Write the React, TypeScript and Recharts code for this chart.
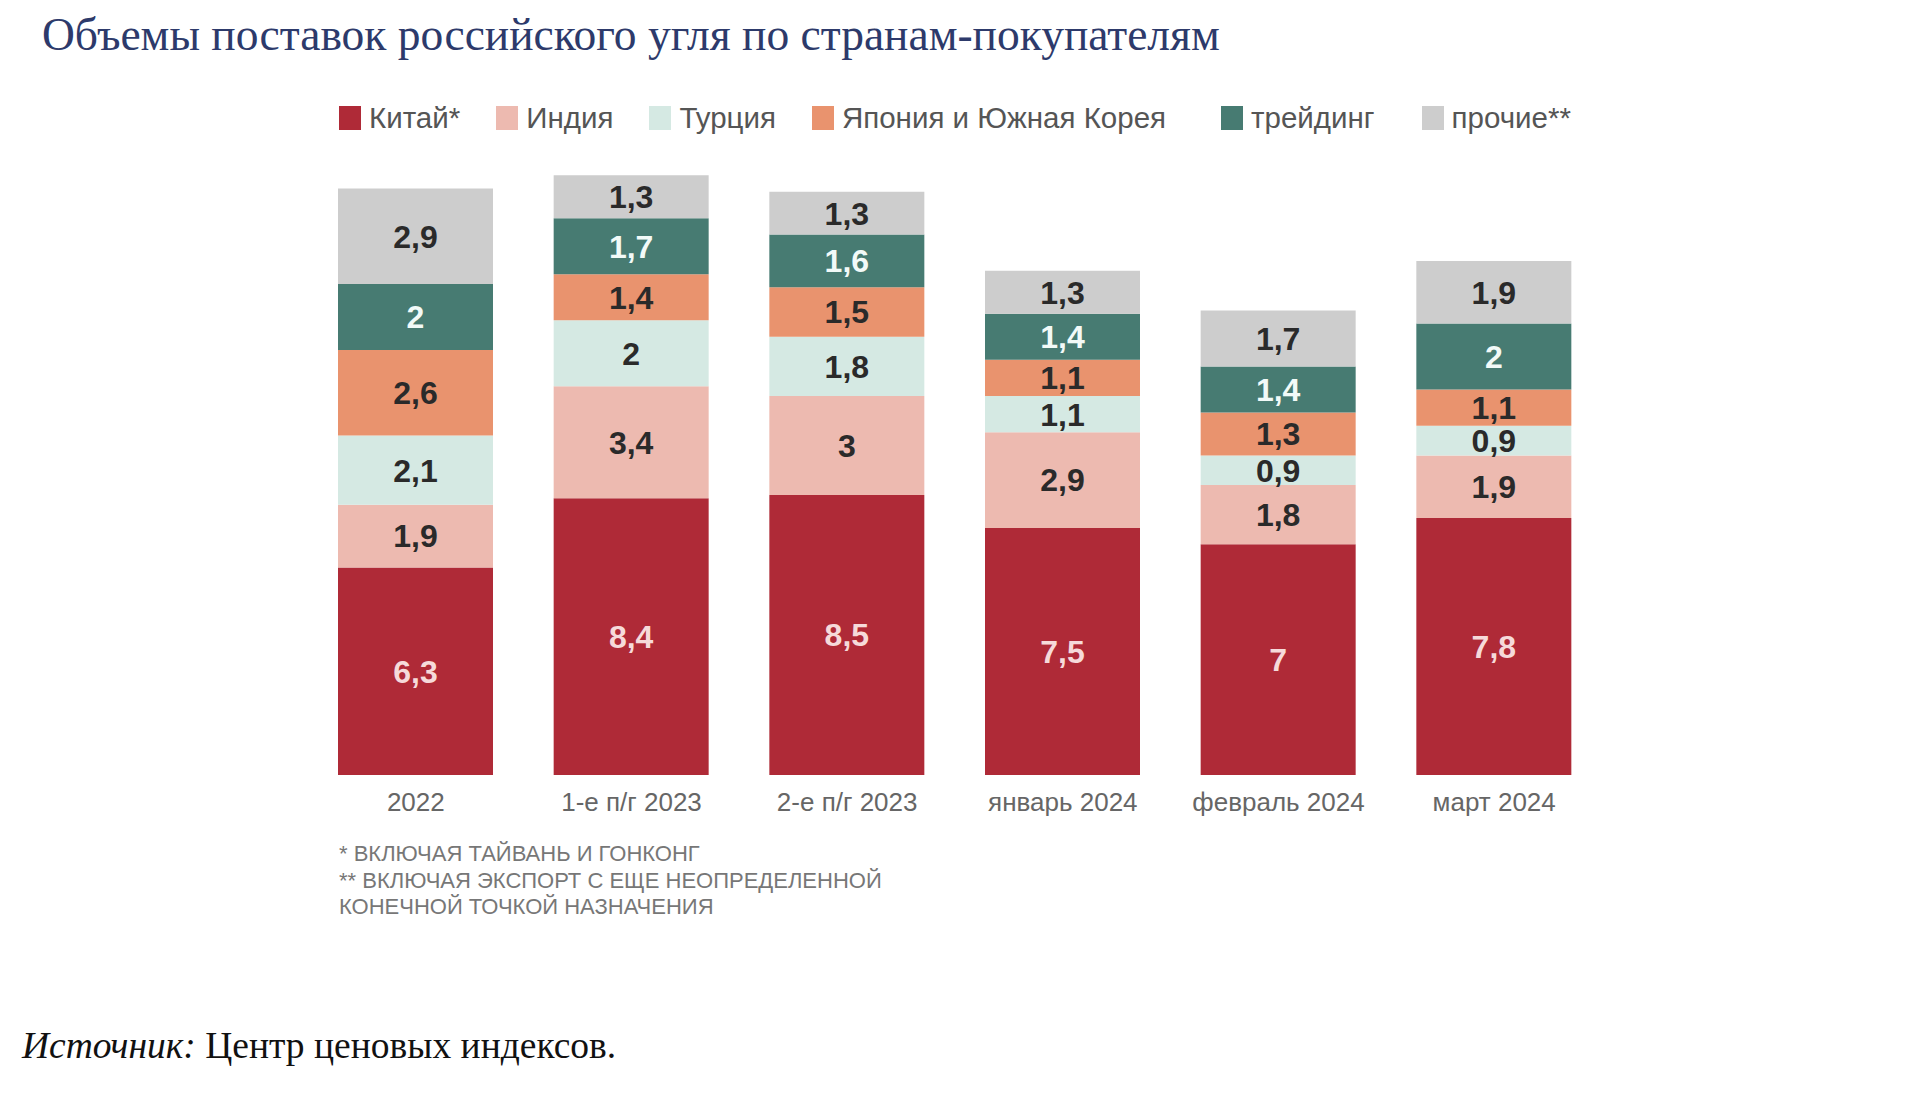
import { BarChart, Bar, XAxis, YAxis, LabelList } from 'recharts'

const categories = ['2022', '1-е п/г 2023', '2-е п/г 2023', 'январь 2024', 'февраль 2024', 'март 2024']
const china = [6.3, 8.4, 8.5, 7.5, 7, 7.8]
const india = [1.9, 3.4, 3, 2.9, 1.8, 1.9]
const turkey = [2.1, 2, 1.8, 1.1, 0.9, 0.9]
const japanKorea = [2.6, 1.4, 1.5, 1.1, 1.3, 1.1]
const trading = [2, 1.7, 1.6, 1.4, 1.4, 2]
const other = [2.9, 1.3, 1.3, 1.3, 1.7, 1.9]

const seriesNames = ['Китай*', 'Индия', 'Турция', 'Япония и Южная Корея', 'трейдинг', 'прочие**']
const footnotes = ['* ВКЛЮЧАЯ ТАЙВАНЬ И ГОНКОНГ', '** ВКЛЮЧАЯ ЭКСПОРТ С ЕЩЕ НЕОПРЕДЕЛЕННОЙ', 'КОНЕЧНОЙ ТОЧКОЙ НАЗНАЧЕНИЯ']

const series = [
  { key: 'china', values: china, color: '#af2a37', text: '#f6dada' },
  { key: 'india', values: india, color: '#edbab0', text: '#2a2a2a' },
  { key: 'turkey', values: turkey, color: '#d5e9e3', text: '#2a2a2a' },
  { key: 'japanKorea', values: japanKorea, color: '#e9936e', text: '#2a2a2a' },
  { key: 'trading', values: trading, color: '#477b72', text: '#f2faf8' },
  { key: 'other', values: other, color: '#cdcdcd', text: '#2a2a2a' },
]

const data = categories.map((name, i) => {
  const row: Record<string, string | number> = { name }
  series.forEach(s => { row[s.key] = s.values[i] })
  return row
})

const fmt = (v: any) => String(v).replace('.', ',')
const SANS = '"Liberation Sans", Arial, sans-serif'
// extra spacing in the legend row (the source has a wide gap before "трейдинг")
const legendGaps = [36, 36, 36, 55, 47, 0]

export default function App() {
  return (
    <div style={{ position: 'absolute', left: 0, top: 0, width: 1920, height: 1108, background: '#fff', overflow: 'hidden' }}>
      <div style={{ position: 'absolute', left: 42, top: 9, fontFamily: '"Liberation Serif", serif', fontSize: 45.5, lineHeight: '52px', color: '#2d3a6b', whiteSpace: 'nowrap' }}>
        Объемы поставок российского угля по странам-покупателям
      </div>

      {/* legend */}
      <div style={{ position: 'absolute', left: 339, top: 101, display: 'flex', alignItems: 'center', fontFamily: SANS, fontSize: 29.5, color: '#555', whiteSpace: 'nowrap' }}>
        {seriesNames.map((n, i) => (
          <div key={n} style={{ display: 'flex', alignItems: 'center', marginRight: legendGaps[i] }}>
            <span style={{ display: 'inline-block', width: 22, height: 24, background: series[i].color, marginRight: 8 }} />
            <span>{n}</span>
          </div>
        ))}
      </div>

      <div style={{ position: 'absolute', left: 0, top: 0 }}>
        <BarChart width={1920} height={1108} data={data} margin={{ top: 116, right: 318, bottom: 293, left: 308 }} barSize={155}>
          <XAxis dataKey="name" axisLine={false} tickLine={false} tickSize={0} tickMargin={18} height={40} interval={0}
            tick={{ fill: '#666', fontSize: 26, fontFamily: SANS }} />
          <YAxis hide domain={[0, 20]} />
          {series.map(s => (
            <Bar key={s.key} dataKey={s.key} stackId="a" fill={s.color} isAnimationActive={false}>
              <LabelList dataKey={s.key} position="center" formatter={fmt}
                style={{ fill: s.text, fontSize: 32, fontWeight: 700, fontFamily: SANS }} />
            </Bar>
          ))}
        </BarChart>
      </div>

      <div style={{ position: 'absolute', left: 339, top: 841, fontFamily: SANS, fontSize: 22, lineHeight: '26.5px', color: '#777', whiteSpace: 'nowrap' }}>
        {footnotes.map(f => <div key={f}>{f}</div>)}
      </div>

      <div style={{ position: 'absolute', left: 22, top: 1024, fontFamily: '"Liberation Serif", serif', fontSize: 37.5, lineHeight: '44px', color: '#111', whiteSpace: 'nowrap' }}>
        <i>Источник:</i> Центр ценовых индексов.
      </div>
    </div>
  )
}
